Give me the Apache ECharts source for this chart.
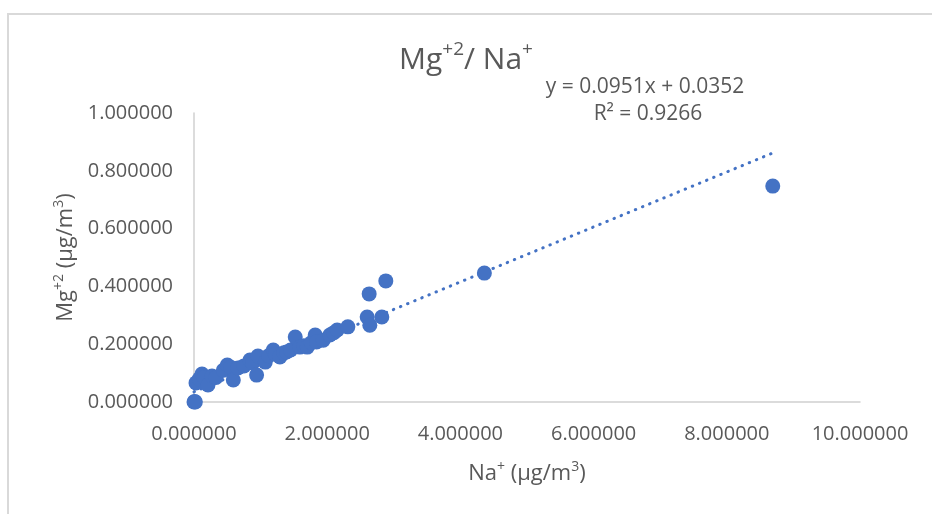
<!DOCTYPE html>
<html>
<head>
<meta charset="utf-8">
<title>Mg/Na</title>
<script src="https://cdn.jsdelivr.net/npm/echarts@6/dist/echarts.min.js"></script>
<style>
html, body { margin: 0; padding: 0; background: #fff; }
#chart { width: 932px; height: 514px; }
</style>
</head>
<body>
<div id="chart"></div>
<script type="text/javascript">
// Na+ (x) and Mg+2 (y)
var naValues = [0, 0.01, 0.02, 0.03, 0.08, 0.12, 0.15, 0.21, 0.27, 0.33,
    0.44, 0.50, 0.55, 0.59, 0.66, 0.75, 0.84, 0.88, 0.94, 0.96,
    1.07, 1.12, 1.19, 1.22, 1.29, 1.35, 1.39, 1.45, 1.52, 1.59,
    1.65, 1.70, 1.76, 1.82, 1.84, 1.94, 2.04, 2.10, 2.15, 2.31,
    2.60, 2.64, 2.63, 2.82, 2.88, 4.36, 8.69];
var mgValues = [0, 0.002, 0, 0.066, 0.080, 0.097, 0.085, 0.059, 0.090, 0.085,
    0.110, 0.128, 0.120, 0.076, 0.118, 0.125, 0.145, 0.135, 0.093, 0.159,
    0.138, 0.160, 0.180, 0.165, 0.156, 0.170, 0.173, 0.180, 0.225, 0.190,
    0.195, 0.190, 0.205, 0.232, 0.208, 0.214, 0.232, 0.240, 0.249, 0.260,
    0.294, 0.266, 0.374, 0.294, 0.419, 0.446, 0.747];
// trendline as printed on the chart
var slope = 0.0951;
var intercept = 0.0352;
var xTicks = [0, 2, 4, 6, 8, 10];
var yTicks = [0, 0.2, 0.4, 0.6, 0.8, 1];

var points = naValues.map(function (x, i) { return [x, mgValues[i]]; });
var xMax = Math.max.apply(null, naValues);
var trend = [[0, intercept], [xMax, slope * xMax + intercept]];

var textColor = '#595959';
var fontName = 'Open Sans';
var supStyle = { fontSize: 14, lineHeight: 12, verticalAlign: 'top', color: textColor, fontFamily: fontName };
var mainStyle = { fontSize: 22, lineHeight: 28, color: textColor, fontFamily: fontName };

var chart = echarts.init(document.getElementById('chart'));
var option = {
    animation: false,
    backgroundColor: '#fff',
    title: {
        text: 'Mg{s|+2}/ Na{s|+}',
        left: 'center',
        top: 35,
        textStyle: {
            rich: {
                s: { fontSize: 19, lineHeight: 16, verticalAlign: 'top', color: textColor, fontFamily: fontName }
            },
            fontSize: 30,
            lineHeight: 40,
            color: textColor,
            fontFamily: fontName,
            fontWeight: 'normal'
        }
    },
    graphic: [
        {
            type: 'rect',
            shape: { x: 8, y: 14, width: 940, height: 520 },
            style: { fill: 'none', stroke: '#d9d9d9', lineWidth: 2 },
            silent: true
        },
        {
            type: 'text',
            x: 645, y: 87,
            style: { text: 'y = 0.0951x + 0.0352', align: 'center', verticalAlign: 'middle',
                fontSize: 21, fontFamily: fontName, fill: textColor }
        },
        {
            type: 'text',
            x: 648, y: 114,
            style: { text: 'R² = 0.9266', align: 'center', verticalAlign: 'middle',
                fontSize: 21, fontFamily: fontName, fill: textColor }
        }
    ],
    grid: { left: 194, right: 72, top: 113, bottom: 112 },
    xAxis: {
        type: 'value',
        min: xTicks[0],
        max: xTicks[xTicks.length - 1],
        interval: xTicks[1] - xTicks[0],
        splitLine: { show: false },
        axisTick: { show: false },
        axisLine: { show: true, onZero: false, lineStyle: { color: '#d0d0d0', width: 1.5 } },
        axisLabel: {
            margin: 22,
            color: textColor, fontSize: 20, fontFamily: fontName,
            formatter: function (v) { return v.toFixed(6); }
        },
        name: '{m|Na}{s|+}{m| (µg/m}{s|3}{m|)}',
        nameLocation: 'middle',
        nameGap: 58,
        nameTextStyle: { rich: { m: mainStyle, s: supStyle } }
    },
    yAxis: {
        type: 'value',
        min: yTicks[0],
        max: yTicks[yTicks.length - 1],
        interval: 0.2,
        splitLine: { show: false },
        axisTick: { show: false },
        axisLine: { show: true, onZero: false, lineStyle: { color: '#d0d0d0', width: 1.5 } },
        axisLabel: {
            margin: 21,
            color: textColor, fontSize: 20, fontFamily: fontName,
            formatter: function (v) { return v.toFixed(6); }
        },
        name: '{m|Mg}{s|+2}{m| (µg/m}{s|3}{m|)}',
        nameLocation: 'middle',
        nameGap: 106,
        nameRotate: 90,
        nameTextStyle: { rich: { m: mainStyle, s: supStyle } }
    },
    series: [
        {
            type: 'line',
            data: trend,
            showSymbol: false,
            symbol: 'none',
            silent: true,
            lineStyle: { color: '#4472C4', width: 3, type: [0.5, 7.2], cap: 'round' },
            z: 1
        },
        {
            type: 'scatter',
            data: points,
            symbolSize: 15,
            itemStyle: { color: '#4472C4', opacity: 1 },
            z: 2
        }
    ]
};
chart.setOption(option);
</script>
</body>
</html>
